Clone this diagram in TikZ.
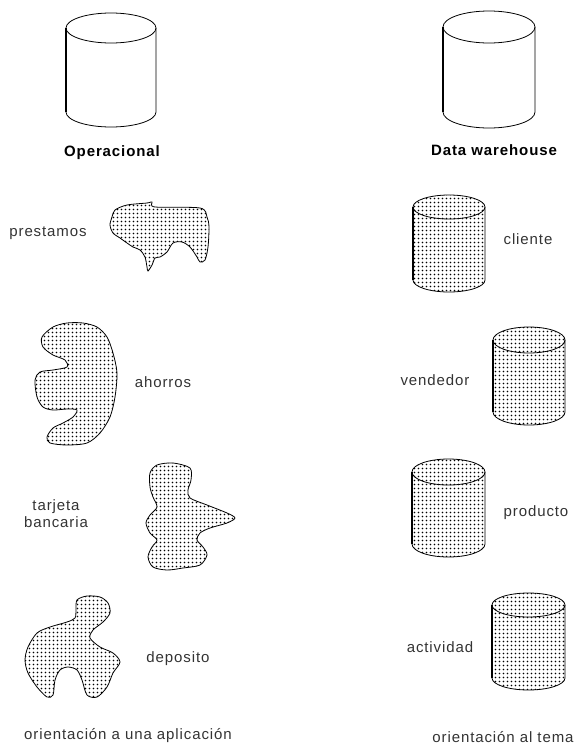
\documentclass[tikz,border=0pt]{standalone}
\usepackage{fontspec}
\setmainfont{Liberation Sans}
\newfontfamily\lblfont{Liberation Sans}[LetterSpace=6]
\usepackage{tikz}
\usetikzlibrary{patterns}

% dotted fill of the shapes
\pgfdeclarepatternformonly{dbdots}{\pgfqpoint{0pt}{0pt}}{\pgfqpoint{3.5pt}{3.5pt}}{\pgfqpoint{3.5pt}{3.5pt}}%
  {\pgfpathcircle{\pgfqpoint{1.75pt}{1.75pt}}{1pt}\pgfusepath{fill}}

% cylinder: left x, right x, top centre y, bottom centre y, y radius, style
\newcommand{\dbcyl}[6]{%
  \path[#6] (#1,-#3) -- (#1,-#4)
    arc[start angle=180, end angle=360, x radius={(#2-#1)/2}, y radius=#5]
    -- (#2,-#3)
    arc[start angle=0, end angle=180, x radius={(#2-#1)/2}, y radius=#5] -- cycle;
  \draw[line width=0.8pt] (#1,-#3)
    arc[start angle=180, end angle=360, x radius={(#2-#1)/2}, y radius=#5];
  \draw[line width=1.6pt] (#1,-#3) -- (#1,-#4);
}

\begin{document}
\begin{tikzpicture}[x=1pt, y=1pt,
  lbl/.style={font=\lblfont\fontsize{15}{17}\selectfont, text=black!80, inner sep=0pt},
  ttl/.style={font=\lblfont\bfseries\fontsize{15}{18}\selectfont, inner sep=0pt},
  blob/.style={draw, line width=0.8pt, pattern=dbdots},
  bigdb/.style={draw, line width=0.8pt, fill=white},
  smalldb/.style={draw, line width=0.8pt, pattern=dbdots}]
\useasboundingbox (0,0) rectangle (576,-747);

% Big cylinders
\dbcyl{66}{156}{28}{112}{15}{bigdb}
\dbcyl{443}{535}{27}{112}{16}{bigdb}
\node[ttl] (opTitle) at (112,-153) {Operacional};
\node[ttl] (dwTitle) at (494,-150) {Data warehouse};

% Operational side (shapes traced with y pointing down)
\begin{scope}[yscale=-1]
\draw[blob] plot[smooth cycle, tension=0.5] coordinates {
  (112,217) (115,210) (127,205) (147,203) (152,202) (155,207) (200,208)
  (207,217) (209,227) (208,247) (205,260) (200,262) (197,257) (190,247)
  (182,242) (173,243) (167,252) (160,257) (155,258) (152,265) (148,271)
  (147,267) (145,257) (140,250) (133,247) (127,243) (120,238) (113,233) (110,225)};

\draw[blob] plot[smooth cycle, tension=0.5] coordinates {
  (53,327) (67,323) (83,323) (97,327) (107,337) (113,353) (117,373)
  (115,397) (110,417) (100,433) (87,443) (67,445) (50,443) (47,437)
  (53,428) (63,423) (73,417) (77,410) (67,409) (53,410) (43,407)
  (37,397) (35,380) (40,372) (53,370) (67,367) (65,360) (53,355)
  (43,347) (42,337)};

\draw[blob] plot[smooth cycle, tension=0.5] coordinates {
  (150,473) (157,465) (173,463) (190,468) (191,480) (188,490) (190,498)
  (207,505) (227,513) (235,518) (227,523) (210,528) (200,533) (197,540)
  (203,547) (207,555) (200,565) (183,568) (167,570) (153,567) (148,557)
  (152,547) (157,540) (150,533) (146,523) (150,515) (157,507) (153,497) (150,487)};

\draw[blob] plot[smooth cycle, tension=0.5] coordinates {
  (77,600) (87,596) (100,597) (108,603) (110,613) (103,622) (93,630)
  (90,638) (100,647) (113,653) (120,662) (113,673) (107,687) (97,697)
  (87,695) (82,680) (77,670) (68,667) (60,670) (55,680) (53,695)
  (47,697) (37,687) (28,673) (25,660) (28,647) (37,633) (50,627)
  (67,622) (75,618) (76,610)};
\end{scope}

\node[lbl] (lPrest) at (48,-233) {prestamos};
\node[lbl] (lAhorr) at (163,-382) {ahorros};
\node[lbl, align=center] (lTarj) at (56,-514) {tarjeta\\bancaria};
\node[lbl] (lDepo) at (178,-659) {deposito};
\node[lbl] (lApp) at (128,-736) {orientación a una aplicación};

% Subject side
\dbcyl{413}{485}{207}{280}{12}{smalldb}
\node[lbl] (lCli) at (528,-239) {cliente};
\dbcyl{493}{565}{340}{412}{13}{smalldb}
\node[lbl] (lVend) at (435,-380) {vendedor};
\dbcyl{412}{485}{472}{544}{13}{smalldb}
\node[lbl] (lProd) at (536,-513) {producto};
\dbcyl{492}{565}{605}{678}{12}{smalldb}
\node[lbl] (lAct) at (440,-647) {actividad};

\node[lbl] (lTema) at (503,-737) {orientación al tema};
\end{tikzpicture}
\end{document}
